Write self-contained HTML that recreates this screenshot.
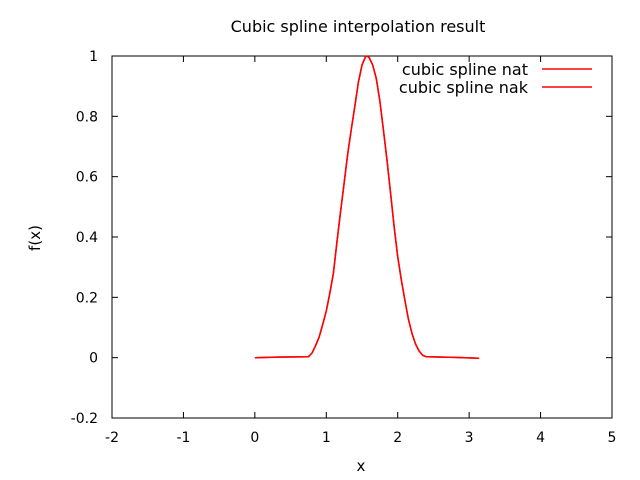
<!DOCTYPE html>
<html><head><meta charset="utf-8"><style>
body{margin:0;background:#fff}
svg{display:block;font-family:"DejaVu Sans","Liberation Sans",sans-serif;font-size:14px}
</style></head><body>
<svg id="chart" width="640" height="480">
<rect width="640" height="480" fill="#fff"/>
<text x="358" y="32" text-anchor="middle" font-size="16">Cubic spline interpolation result</text>
<text x="361" y="471" text-anchor="middle" font-size="15">x</text>
<text x="40" y="238" text-anchor="middle" font-size="15" transform="rotate(-90 40 238)">f(x)</text>
<g id="axes"></g>
<g id="series"></g>
<g id="legend"></g>
</svg>
<script>
const xTicks=[-2,-1,0,1,2,3,4,5];
const yTicks=[-0.2,0,0.2,0.4,0.6,0.8,1];
const yTickLabels=["-0.2","0","0.2","0.4","0.6","0.8","1"];
const seriesNames=["cubic spline nat","cubic spline nak"];
const curveX=[0,0.3,0.75,0.8,0.85,0.9,0.95,1.0,1.05,1.1,1.15,1.2,1.25,1.3,1.35,1.4,1.45,1.5,1.55,1.57,1.6,1.65,1.7,1.75,1.8,1.85,1.9,1.95,2.0,2.05,2.1,2.15,2.2,2.25,2.3,2.35,2.4,2.8,3.14];
const curveY=[0,0.002,0.003,0.015,0.04,0.068,0.11,0.155,0.215,0.28,0.385,0.485,0.578,0.675,0.757,0.835,0.913,0.97,0.998,1,0.995,0.97,0.925,0.85,0.755,0.655,0.545,0.435,0.335,0.258,0.19,0.128,0.08,0.045,0.022,0.008,0.003,0.001,-0.002];
const L=112,R=612,T=56,B=418;
const sx=v=>L+(v-(-2))/7*(R-L);
const sy=v=>B-(v-(-0.2))/1.2*(B-T);
const NS="http://www.w3.org/2000/svg";
function mk(tag,attrs,parent){const e=document.createElementNS(NS,tag);for(const k in attrs)e.setAttribute(k,attrs[k]);parent.appendChild(e);return e;}
const axes=document.getElementById('axes');
const frame=mk('rect',{x:L,y:T,width:R-L,height:B-T,fill:'none',stroke:'#000','stroke-width':1},axes);


xTicks.forEach(v=>{
  const x=sx(v);
  const t1=mk('line',{x1:x,x2:x,y1:B,y2:B-6,stroke:'#000'},axes);
  
  
  const t2=mk('line',{x1:x,x2:x,y1:T,y2:T+6,stroke:'#000'},axes);
  
  
  const lb=mk('text',{x:x,y:B+24,'text-anchor':'middle'},axes);
  lb.textContent=String(v);
  
  
});
yTicks.forEach((v,i)=>{
  const y=sy(v);
  const t1=mk('line',{x1:L,x2:L+6,y1:y,y2:y,stroke:'#000'},axes);
  
  
  const t2=mk('line',{x1:R,x2:R-6,y1:y,y2:y,stroke:'#000'},axes);
  
  
  const lb=mk('text',{x:L-14,y:y+5,'text-anchor':'end'},axes);
  lb.textContent=yTickLabels[i];
  
  
});
const ser=document.getElementById('series');
const pts=curveX.map((x,i)=>sx(x).toFixed(1)+','+sy(curveY[i]).toFixed(1)).join(' ');
seriesNames.forEach((n,i)=>{
  const p=mk('polyline',{points:pts,fill:'none',stroke:'#f00','stroke-width':1.5,'stroke-linejoin':'round'},ser);
  
  
});
const leg=document.getElementById('legend');
seriesNames.forEach((n,i)=>{
  const y=69+i*18;
  const t=mk('text',{x:528,y:y+6,'text-anchor':'end','font-size':16},leg);
  t.textContent=n;
  
  
  const l=mk('line',{x1:542,x2:592,y1:y,y2:y,stroke:'#f00','stroke-width':1.5},leg);
  
  
});
</script>
</body></html>
